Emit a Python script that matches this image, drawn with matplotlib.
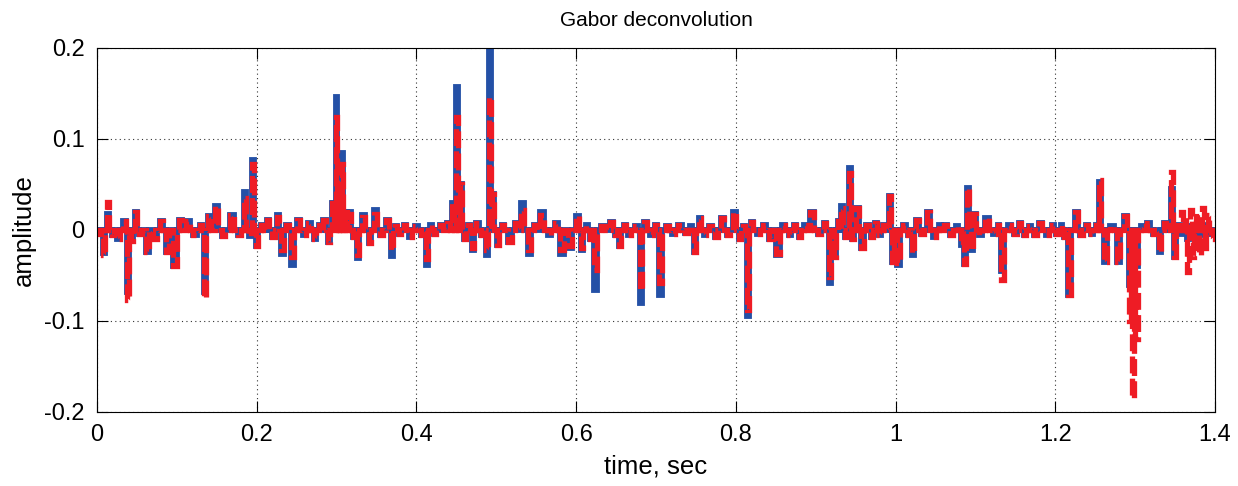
import matplotlib

matplotlib.use("Agg")

import matplotlib.pyplot as plt
import numpy as np

# spike positions (sec) and amplitudes
spike_time = [
    0.004, 0.009, 0.014, 0.020, 0.026, 0.035, 0.039, 0.043, 0.049, 0.054,
    0.063, 0.073, 0.081, 0.088, 0.098, 0.104, 0.114, 0.123, 0.131, 0.135,
    0.140, 0.150, 0.158, 0.169, 0.179, 0.185, 0.192, 0.195, 0.200, 0.207,
    0.214, 0.221, 0.227, 0.232, 0.238, 0.245, 0.252, 0.260, 0.266, 0.273,
    0.279, 0.285, 0.291, 0.296, 0.300, 0.304, 0.307, 0.311, 0.317, 0.322,
    0.326, 0.334, 0.342, 0.348, 0.356, 0.364, 0.369, 0.374, 0.379, 0.386,
    0.392, 0.401, 0.407, 0.413, 0.418, 0.423, 0.431, 0.440, 0.446, 0.451,
    0.455, 0.461, 0.466, 0.471, 0.476, 0.483, 0.488, 0.492, 0.496, 0.502,
    0.508, 0.517, 0.526, 0.533, 0.542, 0.549, 0.557, 0.567, 0.575, 0.582,
    0.592, 0.602, 0.607, 0.614, 0.619, 0.624, 0.634, 0.645, 0.650, 0.655,
    0.661, 0.667, 0.676, 0.682, 0.686, 0.695, 0.700, 0.705, 0.715, 0.722,
    0.730, 0.738, 0.744, 0.749, 0.755, 0.761, 0.768, 0.775, 0.783, 0.791,
    0.799, 0.805, 0.811, 0.815, 0.820, 0.828, 0.836, 0.844, 0.853, 0.860,
    0.868, 0.874, 0.880, 0.887, 0.895, 0.905, 0.912, 0.918, 0.924, 0.929,
    0.933, 0.938, 0.943, 0.947, 0.952, 0.959, 0.965, 0.970, 0.975, 0.980,
    0.986, 0.993, 0.997, 1.003, 1.012, 1.017, 1.022, 1.027, 1.034, 1.041,
    1.049, 1.056, 1.062, 1.071, 1.077, 1.083, 1.087, 1.091, 1.096, 1.099,
    1.106, 1.114, 1.124, 1.129, 1.133, 1.143, 1.150, 1.156, 1.162, 1.168,
    1.175, 1.181, 1.191, 1.197, 1.203, 1.208, 1.212, 1.218, 1.227, 1.233,
    1.240, 1.246, 1.252, 1.256, 1.262, 1.271, 1.279, 1.288, 1.294, 1.297,
    1.301, 1.309, 1.316, 1.325, 1.331, 1.338, 1.343, 1.346, 1.350, 1.354,
    1.359, 1.363, 1.366, 1.370, 1.373, 1.377, 1.381, 1.385, 1.388, 1.392,
    1.396,
]

blue_amp = [
    -0.004, -0.025, 0.018, -0.006, -0.010, 0.010, -0.068, -0.012, 0.020, -0.004,
    -0.024, -0.010, 0.010, -0.024, -0.040, 0.011, 0.010, -0.006, 0.006, -0.068,
    0.015, 0.026, -0.007, 0.016, -0.005, 0.042, -0.007, 0.077, -0.018, 0.006,
    0.011, -0.008, 0.016, -0.026, 0.006, -0.038, 0.011, -0.006, 0.008, -0.010,
    0.006, 0.011, -0.013, 0.030, 0.146, 0.060, 0.085, 0.020, 0.020, -0.008,
    -0.031, 0.016, -0.014, 0.022, -0.006, 0.011, -0.029, 0.004, -0.004, 0.006,
    -0.008, 0.004, -0.006, -0.038, 0.006, -0.004, 0.006, 0.008, 0.030, 0.157,
    0.050, -0.010, 0.006, -0.022, 0.008, -0.006, -0.027, 0.205, 0.040, -0.016,
    0.006, -0.013, 0.008, 0.030, -0.026, 0.006, 0.020, -0.006, 0.008, -0.026,
    -0.020, 0.015, -0.022, 0.006, -0.010, -0.066, 0.004, 0.009, -0.006, -0.018,
    0.005, -0.006, 0.004, -0.080, 0.009, -0.006, 0.005, -0.071, 0.004, -0.004,
    0.005, -0.003, 0.004, -0.024, 0.013, -0.006, 0.004, -0.008, 0.013, -0.006,
    0.020, -0.010, 0.004, -0.095, 0.009, -0.004, 0.005, -0.010, -0.028, 0.006,
    -0.006, 0.005, -0.008, 0.006, 0.020, -0.004, 0.008, -0.058, -0.030, 0.010,
    0.026, -0.008, 0.068, -0.010, 0.024, -0.020, 0.006, -0.008, 0.008, -0.005,
    0.006, 0.037, -0.035, -0.038, 0.006, -0.006, -0.027, 0.011, -0.004, 0.020,
    -0.008, 0.006, 0.005, -0.006, 0.004, -0.016, -0.037, 0.046, -0.022, 0.018,
    -0.006, 0.013, -0.004, 0.006, -0.045, 0.006, -0.004, 0.008, -0.006, 0.004,
    -0.005, 0.008, -0.006, 0.005, -0.004, 0.006, -0.008, -0.071, 0.020, -0.006,
    0.005, -0.004, 0.006, 0.053, -0.035, 0.004, -0.035, 0.015, -0.060, -0.062,
    -0.040, 0.004, 0.008, -0.004, -0.024, 0.008, 0.006, 0.045, -0.030, 0.006,
    -0.004, 0.006, -0.010, 0.004, -0.005, 0.004, -0.006, 0.004, -0.004, 0.005,
    -0.004,
]

red_amp = [
    -0.004, -0.027, 0.031, -0.006, -0.010, 0.010, -0.077, -0.012, 0.020, -0.004,
    -0.024, -0.010, 0.010, -0.024, -0.040, 0.011, 0.010, -0.006, 0.006, -0.075,
    0.015, 0.026, -0.007, 0.016, -0.005, 0.035, -0.007, 0.072, -0.018, 0.006,
    0.011, -0.008, 0.014, -0.022, 0.006, -0.030, 0.011, -0.006, 0.008, -0.010,
    0.006, 0.011, -0.013, 0.030, 0.124, 0.050, 0.072, 0.020, 0.018, -0.008,
    -0.028, 0.014, -0.014, 0.018, -0.006, 0.011, -0.022, 0.004, -0.004, 0.006,
    -0.008, 0.004, -0.006, -0.032, 0.006, -0.004, 0.006, 0.008, 0.030, 0.124,
    0.050, -0.010, 0.006, -0.020, 0.008, -0.006, -0.022, 0.146, 0.040, -0.016,
    0.006, -0.013, 0.008, 0.022, -0.022, 0.006, 0.016, -0.006, 0.008, -0.022,
    -0.018, 0.015, -0.020, 0.006, -0.010, -0.044, 0.004, 0.009, -0.006, -0.018,
    0.005, -0.006, 0.004, -0.066, 0.009, -0.006, 0.005, -0.058, 0.004, -0.004,
    0.005, -0.003, 0.004, -0.024, 0.013, -0.006, 0.004, -0.008, 0.013, -0.006,
    0.020, -0.010, 0.004, -0.088, 0.009, -0.004, 0.005, -0.010, -0.026, 0.006,
    -0.006, 0.005, -0.008, 0.006, 0.020, -0.004, 0.008, -0.052, -0.030, 0.010,
    0.024, -0.008, 0.063, -0.010, 0.024, -0.020, 0.006, -0.008, 0.008, -0.005,
    0.006, 0.037, -0.035, -0.036, 0.006, -0.006, -0.025, 0.011, -0.004, 0.020,
    -0.008, 0.006, 0.005, -0.006, 0.004, -0.016, -0.037, 0.046, -0.022, 0.018,
    -0.006, 0.013, -0.004, 0.006, -0.055, 0.006, -0.004, 0.008, -0.006, 0.004,
    -0.005, 0.008, -0.006, 0.005, -0.004, 0.006, -0.008, -0.071, 0.020, -0.006,
    0.005, -0.004, 0.006, 0.055, -0.035, 0.004, -0.035, 0.015, -0.100, -0.185,
    -0.120, 0.004, 0.008, -0.004, -0.024, 0.008, 0.006, 0.064, -0.030, 0.010,
    0.020, 0.015, -0.046, 0.022, -0.030, 0.020, -0.028, 0.024, -0.020, 0.016,
    -0.010,
]

x_ticks = [0, 0.2, 0.4, 0.6, 0.8, 1.0, 1.2, 1.4]
x_tick_labels = ["0", "0.2", "0.4", "0.6", "0.8", "1", "1.2", "1.4"]
y_ticks = [-0.2, -0.1, 0, 0.1, 0.2]
y_tick_labels = ["-0.2", "-0.1", "0", "0.1", "0.2"]

BLUE = "#2450a6"
RED = "#ee1c25"

plt.rcParams["font.family"] = ["Liberation Sans", "DejaVu Sans"]


def _stair_signal(times, amps):
    # spikes separated by zero samples, drawn as blocky steps like the original
    xs, ys = [0.0], [0.0]
    for i, (t, a) in enumerate(zip(times, amps)):
        xs.append(t)
        ys.append(a)
        nxt = times[i + 1] if i + 1 < len(times) else 1.4
        xs.append((t + nxt) / 2)
        ys.append(0.0)
    xs.append(1.4)
    ys.append(0.0)
    return np.asarray(xs), np.asarray(ys)


fig = plt.figure(figsize=(12.38, 4.86), dpi=100)
ax = fig.add_axes([0.0784, 0.1523, 0.9030, 0.7490])

bx, by = _stair_signal(spike_time, blue_amp)
rx, ry = _stair_signal(spike_time, red_amp)
ax.plot(bx, by, color=BLUE, linewidth=4.2, drawstyle="steps-mid",
        solid_joinstyle="miter", solid_capstyle="butt")
ax.plot(rx, ry, color=RED, linewidth=3.8, drawstyle="steps-mid",
        linestyle=(0, (3.2, 1.0)), dash_joinstyle="miter", dash_capstyle="butt")

ax.set_xlim(0, 1.4)
ax.set_ylim(-0.2, 0.2)
ax.set_xticks(x_ticks)
ax.set_xticklabels(x_tick_labels)
ax.set_yticks(y_ticks)
ax.set_yticklabels(y_tick_labels)
ax.tick_params(direction="in", length=8, width=0.8, top=True, right=True,
               labelsize=17, pad=9)
ax.grid(True, color="#333333", linestyle=(0, (1, 3)), linewidth=0.8)
for spine in ax.spines.values():
    spine.set_linewidth(0.8)

ax.set_title("Gabor deconvolution", fontsize=15, pad=16)
ax.set_xlabel("time, sec", fontsize=18.5, labelpad=6)
ax.set_ylabel("amplitude", fontsize=18.5, labelpad=6)

fig.savefig("out.png", dpi=100)
plt.close(fig)
